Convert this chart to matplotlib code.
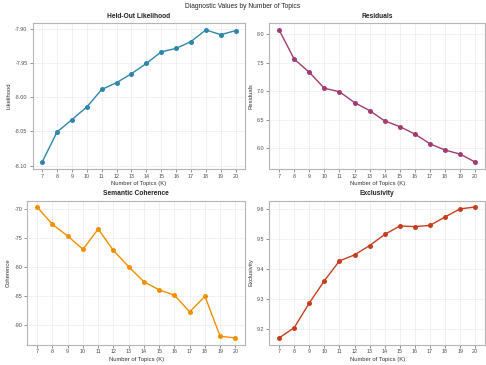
import matplotlib
matplotlib.use("Agg")
import matplotlib.pyplot as plt

plt.rcParams['font.family'] = ['Liberation Sans', 'DejaVu Sans']

K = [7, 8, 9, 10, 11, 12, 13, 14, 15, 16, 17, 18, 19, 20]
likelihood = [-8.095, -8.051, -8.033, -8.0145, -7.989, -7.979, -7.966, -7.951,
              -7.934, -7.929, -7.919, -7.902, -7.909, -7.903]
residuals = [8.07, 7.56, 7.33, 7.05, 6.99, 6.80, 6.66, 6.48, 6.38, 6.25, 6.08,
             5.97, 5.90, 5.76]
coherence = [-69.6, -72.6, -74.6, -76.9, -73.4, -77.1, -79.9, -82.5, -83.9,
             -84.8, -87.7, -85.0, -91.9, -92.2]
exclusivity = [9.170, 9.204, 9.286, 9.360, 9.426, 9.446, 9.477, 9.514, 9.542,
               9.540, 9.544, 9.572, 9.599, 9.605]

panels = [
    ("Held-Out Likelihood", "Likelihood", likelihood, "#2E86AB",
     [-8.10, -8.05, -8.00, -7.95, -7.90], "{:.2f}"),
    ("Residuals", "Residuals", residuals, "#A23B72",
     [6.0, 6.5, 7.0, 7.5, 8.0], "{:.1f}"),
    ("Semantic Coherence", "Coherence", coherence, "#F18F01",
     [-90, -85, -80, -75, -70], "{:.0f}"),
    ("Exclusivity", "Exclusivity", exclusivity, "#C73E1D",
     [9.2, 9.3, 9.4, 9.5, 9.6], "{:.1f}"),
]

W, H = 486, 365
fig = plt.figure(figsize=(W / 100, H / 100), dpi=100)

# pixel boxes: left, right, top, bottom
boxes = [
    (32.5, 245.3, 23.3, 168.7),
    (269.3, 485.0, 23.3, 168.7),
    (27.3, 245.3, 200.5, 344.5),
    (269.3, 485.0, 200.5, 344.5),
]

fig.text(0.5, 1 - 6.5 / H, "Diagnostic Values by Number of Topics",
         ha='center', va='center', fontsize=4.8, color='#222222')

border = '#b5b5b5'
for (title, ylabel, vals, color, yticks, fmt), (l, r, t, b) in zip(panels, boxes):
    ax = fig.add_axes([l / W, 1 - b / H, (r - l) / W, (b - t) / H])
    ax.plot(K, vals, color=color, lw=1.0, marker='o', markersize=3.6,
            markeredgewidth=0, zorder=3)
    ax.set_xlim(6.35, 20.65)
    lo, hi = min(vals), max(vals)
    pad = (hi - lo) * 0.05
    ax.set_ylim(lo - pad, hi + pad)
    ax.set_xticks(K)
    ax.set_xticklabels([str(k) for k in K])
    ax.set_yticks(yticks)
    ax.set_yticklabels([fmt.format(v) for v in yticks])
    ax.grid(True, color='#ebebeb', lw=0.5, zorder=0)
    ax.set_axisbelow(True)
    for s in ax.spines.values():
        s.set_color(border)
        s.set_linewidth(0.8)
    ax.tick_params(axis='both', length=2, width=0.5, color='#666666',
                   labelsize=3.9, labelcolor='#4d4d4d', pad=1.5)
    ax.set_title(title, fontsize=4.8, fontweight='bold', color='#222222', pad=4)
    ax.set_xlabel("Number of Topics (K)", fontsize=4.2, color='#333333', labelpad=2)
    ax.set_ylabel(ylabel, fontsize=4.2, color='#333333', labelpad=2.5)

fig.savefig("out.png", dpi=100)
